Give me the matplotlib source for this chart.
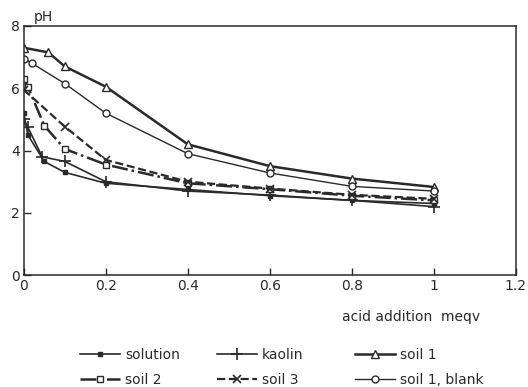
import matplotlib
matplotlib.use("Agg")
import matplotlib.pyplot as plt

plt.rcParams['font.family'] = ['DejaVu Sans']

x_solution = [0.0, 0.01, 0.05, 0.1, 0.2, 0.4, 0.6, 0.8, 1.0]
y_solution = [5.2, 4.5, 3.65, 3.3, 2.95, 2.75, 2.55, 2.4, 2.3]

x_kaolin = [0.0, 0.01, 0.045, 0.1, 0.2, 0.4, 0.6, 0.8, 1.0]
y_kaolin = [5.0, 4.75, 3.8, 3.65, 3.0, 2.7, 2.57, 2.4, 2.2]

x_soil1 = [0.0, 0.06, 0.1, 0.2, 0.4, 0.6, 0.8, 1.0]
y_soil1 = [7.3, 7.15, 6.7, 6.05, 4.2, 3.5, 3.1, 2.83]

x_soil2 = [0.0, 0.01, 0.05, 0.1, 0.2, 0.4, 0.6, 0.8, 1.0]
y_soil2 = [6.3, 6.05, 4.8, 4.05, 3.55, 2.95, 2.76, 2.55, 2.4]

x_soil3 = [0.0, 0.1, 0.2, 0.4, 0.6, 0.8, 1.0]
y_soil3 = [5.95, 4.77, 3.7, 3.0, 2.78, 2.58, 2.45]

x_blank = [0.0, 0.02, 0.1, 0.2, 0.4, 0.6, 0.8, 1.0]
y_blank = [6.95, 6.8, 6.15, 5.2, 3.9, 3.28, 2.85, 2.7]

x_ticks = [0, 0.2, 0.4, 0.6, 0.8, 1.0, 1.2]
x_ticklabels = ['0', '0.2', '0.4', '0.6', '0.8', '1', '1.2']
y_ticks = [0, 2, 4, 6, 8]

fig = plt.figure(figsize=(5.28, 3.87), dpi=100)
ax = fig.add_axes([0.045, 0.289, 0.932, 0.644])

c = '#2a2a2a'
h_sol, = ax.plot(x_solution, y_solution, '-', color=c, lw=1.2, marker='s', ms=3,
                 mfc=c, mec=c, label='solution')
h_kao, = ax.plot(x_kaolin, y_kaolin, '-', color=c, lw=1.2, marker='+', ms=8,
                 mew=1.2, label='kaolin')
h_s1, = ax.plot(x_soil1, y_soil1, '-', color=c, lw=1.8, marker='^', ms=6,
                mfc='white', mec=c, mew=1.0, label='soil 1')
h_s2, = ax.plot(x_soil2, y_soil2, '-.', color=c, lw=1.8, marker='s', ms=4.5,
                mfc='white', mec=c, mew=1.0, label='soil 2')
h_s3, = ax.plot(x_soil3, y_soil3, '--', color=c, lw=1.6, marker='x', ms=5.5,
                mew=1.2, label='soil 3')
h_bl, = ax.plot(x_blank, y_blank, '-', color=c, lw=1.0, marker='o', ms=5,
                mfc='white', mec=c, mew=1.0, label='soil 1, blank')

ax.set_xlim(0, 1.2)
ax.set_ylim(0, 8)
ax.set_xticks(x_ticks)
ax.set_xticklabels(x_ticklabels)
ax.set_yticks(y_ticks)
ax.tick_params(direction='in', length=5, width=1, labelsize=10, colors=c, pad=3)
for s in ax.spines.values():
    s.set_color(c)
    s.set_linewidth(1.1)

fig.text(0.063, 0.955, 'pH', fontsize=10, color=c, ha='left', va='center')
fig.text(0.91, 0.182, 'acid addition  meqv', fontsize=10, color=c, ha='right', va='center')

groups = [([h_sol, h_s2], 0.1515), ([h_kao, h_s3], 0.411), ([h_s1, h_bl], 0.672)]
for hs, xpos in groups:
    fig.legend(hs, [h.get_label() for h in hs], loc='upper left',
               bbox_to_anchor=(xpos, 0.101), borderaxespad=0, borderpad=0,
               frameon=False, fontsize=10, handlelength=2.9,
               labelspacing=0.8, handletextpad=0.35, labelcolor=c)

fig.savefig('out.png', dpi=100)
